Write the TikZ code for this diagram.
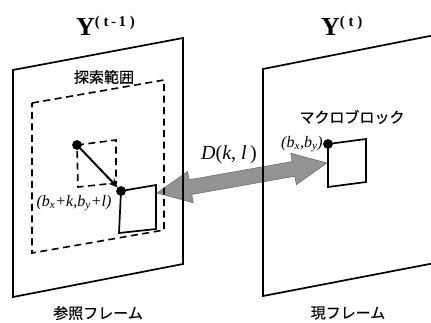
\documentclass[tikz,border=0pt]{standalone}
\usepackage{fontspec}
\setmainfont{Liberation Serif}
\newfontfamily\jp[FakeBold=0.4]{Noto Sans CJK JP}
\usetikzlibrary{calc,arrows.meta}
\newcommand{\mysup}[1]{\raisebox{9pt}{\fontsize{15}{15}\selectfont\bfseries #1}}
\begin{document}
\begin{tikzpicture}[x=1pt,y=-1pt,
  frame/.style={line width=1.7pt},
  srch/.style={line width=1.6pt,dash pattern=on 7pt off 4.5pt},
  blk/.style={line width=1.7pt},
  dotm/.style={circle,fill=black,inner sep=0pt,minimum size=9.5pt},
  jlab/.style={font=\jp\fontsize{15}{16}\selectfont,inner sep=0pt},
  mlab/.style={font=\fontsize{16}{17}\selectfont\itshape,inner sep=0pt},
  ylab/.style={font=\fontsize{26}{28}\selectfont\bfseries,inner sep=0pt,anchor=base west},
  garrow/.style={fill=gray!85!white,draw=gray!70!black,line width=0.4pt}]
\useasboundingbox (0,0) rectangle (431,322);
% corner coordinates
\coordinate (L1) at (13,70); \coordinate (L2) at (183,38);
\coordinate (L3) at (183,264); \coordinate (L4) at (13,297);
\coordinate (R1) at (263,69); \coordinate (R2) at (440,34);
\coordinate (R3) at (440,262); \coordinate (R4) at (263,296);
% dots
\node[dotm] (d1) at (77,145) {};
\node[dotm] (d2) at (121,191) {};
\node[dotm] (d3) at (328,144) {};
% gray double arrow
\coordinate (A) at (157,193);
\coordinate (B) at (327,163);
\filldraw[garrow]
  (A)
  -- ($(A)!34pt!(B)!16pt!90:(B)$)
  -- ($(A)!34pt!(B)!7.5pt!90:(B)$)
  -- ($(B)!34pt!(A)!7.5pt!-90:(A)$)
  -- ($(B)!34pt!(A)!16pt!-90:(A)$)
  -- (B)
  -- ($(B)!34pt!(A)!16pt!90:(A)$)
  -- ($(B)!34pt!(A)!7.5pt!90:(A)$)
  -- ($(A)!34pt!(B)!7.5pt!-90:(B)$)
  -- ($(A)!34pt!(B)!16pt!-90:(B)$)
  -- cycle;
% frames
\draw[frame] (L1) -- (L2) -- (L3) -- (L4) -- cycle;
\draw[frame] (R2) -- (R1) -- (R4) -- (R3);
% search range
\coordinate (S1) at (32,103); \coordinate (S2) at (164,80);
\coordinate (S3) at (164,230); \coordinate (S4) at (32,253);
\draw[srch] (S1) -- (S2) -- (S3) -- (S4) -- cycle;
% small dashed block
\coordinate (T2) at (116,140); \coordinate (T3) at (116,183); \coordinate (T4) at (78,187);
\draw[srch] (d1.center) -- (T2) -- (T3) -- (T4) -- cycle;
% blocks
\coordinate (P2) at (156,185); \coordinate (P3) at (156,229); \coordinate (P4) at (119,233);
\draw[blk] (d2.center) -- (P2) -- (P3) -- (P4) -- cycle;
\coordinate (Q2) at (366,139); \coordinate (Q3) at (366,182); \coordinate (Q4) at (328,187);
\draw[blk] (d3.center) -- (Q2) -- (Q3) -- (Q4) -- cycle;
% motion arrow
\draw[line width=2pt,-{Stealth[length=9pt,width=8pt]}] (d1) -- (d2);
\node[dotm] at (d1) {};
\node[dotm] at (d2) {};
\node[dotm] at (d3) {};
% labels
\node[ylab] (y1) at (76,35) {Y\mysup{( t\,-\,1 )}};
\node[ylab] (y2) at (321,35) {Y\mysup{( t )}};
\node[jlab] (sr) at (104,77) {探索範囲};
\node[jlab] (mb) at (352,117) {マクロブロック};
\node[jlab] (rf) at (98,313) {参照フレーム};
\node[jlab] (cf) at (348,313) {現フレーム};
\node[mlab] (l1) at (74,203) {(b\textsubscript{x}+k,b\textsubscript{y}+l)};
\node[mlab,anchor=east] (l2) at (323,144) {(b\textsubscript{x},b\textsubscript{y})};
\node[mlab,font=\fontsize{20}{21}\selectfont\itshape] (dl) at (229,155) {D\/\upshape(\itshape k\upshape, \itshape l\,\upshape)};
\end{tikzpicture}
\end{document}
